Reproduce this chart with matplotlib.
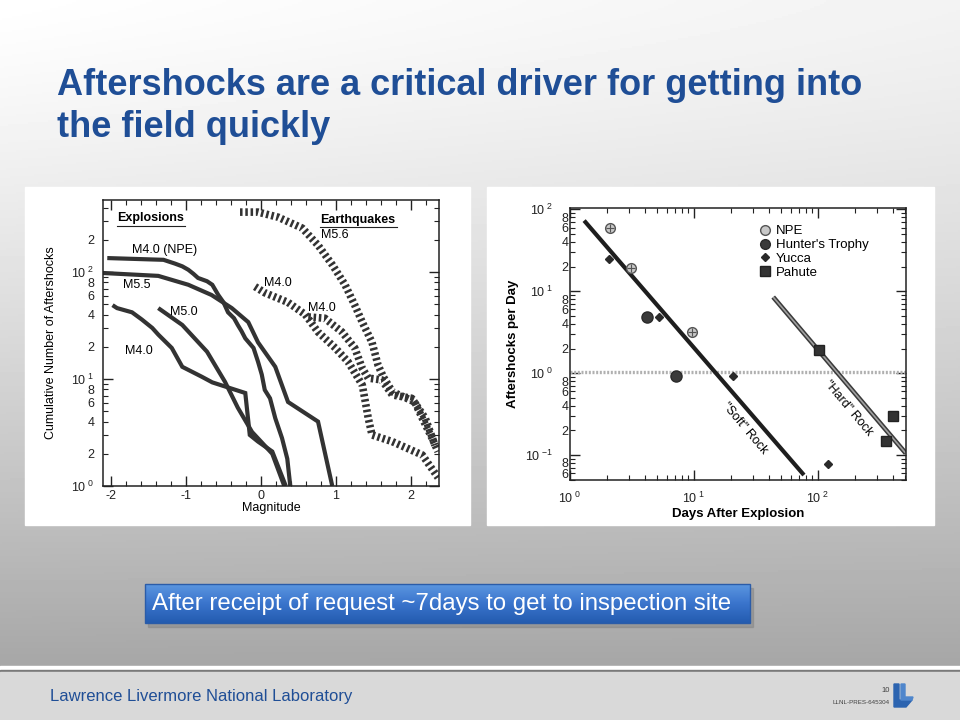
import numpy as np
import matplotlib
matplotlib.use("Agg")
import matplotlib.pyplot as plt
from matplotlib.patches import Rectangle, Polygon
from matplotlib.ticker import FixedLocator, FuncFormatter, NullFormatter
from matplotlib.lines import Line2D
from matplotlib.colors import LinearSegmentedColormap

plt.rcParams['font.family'] = ['Liberation Sans', 'DejaVu Sans']
plt.rcParams['mathtext.default'] = 'regular'
plt.rcParams['axes.unicode_minus'] = False

# ---------------- data: left chart (cumulative number vs magnitude) ----------------
npe_mag = [-2.05, -1.30, -1.15, -1.05, -0.97, -0.90, -0.84, -0.72, -0.65, -0.57, -0.50, -0.44, -0.36,
           -0.31, -0.26, -0.21, -0.10, -0.04, 0.01, 0.05, 0.12, 0.19, 0.28, 0.35, 0.39]
npe_cnt = [135, 130, 120, 113, 105, 96, 88, 82, 76, 61, 52, 42, 37, 32, 28, 24, 19.5, 14.5, 11, 7.9,
           6.6, 4.3, 2.8, 1.8, 1.0]
m55_mag = [-2.12, -1.37, -0.97, -0.66, -0.39, -0.17, -0.04, 0.19, 0.36, 0.76, 0.95]
m55_cnt = [98, 92, 76, 61, 46, 34, 22, 13, 6.1, 4.0, 1.0]
m50_mag = [-1.37, -1.05, -0.72, -0.48, -0.31, -0.12, 0.00, 0.15, 0.31]
m50_cnt = [46, 32, 18, 9.4, 5.4, 3.2, 2.6, 2.0, 1.0]
m40_mag = [-1.98, -1.92, -1.72, -1.59, -1.45, -1.37, -1.19, -1.05, -0.79, -0.65, -0.21, -0.15,
           -0.04, 0.15, 0.33]
m40_cnt = [49, 46, 42, 36, 30, 26, 19.5, 13, 10.5, 9.3, 7.4, 3.0, 2.6, 2.1, 1.0]
eq56_mag = [-0.28, -0.04, 0.23, 0.55, 0.76, 0.95, 1.12, 1.25, 1.35, 1.48, 1.56, 1.63, 1.75, 2.05,
            2.15, 2.28, 2.36]
eq56_cnt = [363, 363, 325, 257, 178, 117, 76, 49, 34, 22, 13.5, 10.5, 7.6, 6.1, 4.3, 2.8, 2.1]
eq40a_mag = [-0.08, 0.05, 0.36, 0.59, 0.76, 0.99, 1.16, 1.35, 1.43, 1.48, 1.75, 2.15, 2.36]
eq40a_cnt = [73, 64, 52, 40, 27.5, 19.5, 14.5, 8.8, 4.3, 3.0, 2.6, 1.95, 1.2]
eq40b_mag = [0.63, 0.85, 1.08, 1.25, 1.35, 1.43, 1.61, 1.75, 2.01, 2.19, 2.32]
eq40b_cnt = [38, 37, 27.5, 19.5, 12.6, 10.2, 9.8, 7.1, 6.6, 4.3, 2.4]

# ---------------- data: right chart (aftershocks per day vs days) ----------------
npe_days = [2.1, 3.1, 9.6]
npe_rate = [59, 19.5, 3.2]
hunter_days = [4.2, 7.2]
hunter_rate = [4.8, 0.93]
yucca_days = [2.07, 5.2, 20.6, 120]
yucca_rate = [24.5, 4.8, 0.93, 0.077]
pahute_days = [102, 400, 354]
pahute_rate = [1.9, 0.30, 0.15]
soft_days = [1.3, 77]
soft_rate = [73, 0.057]
hard_days = [43.5, 510]
hard_rate = [8.5, 0.105]
ref_rate = 1.04

title_lines = ["Aftershocks are a critical driver for getting into", "the field quickly"]
callout = "After receipt of request ~7days to get to inspection site"
footer = "Lawrence Livermore National Laboratory"

BLUE = '#1f4e96'
INK = '#333333'

fig = plt.figure(figsize=(9.6, 7.2), dpi=100)

# ---------------- slide background ----------------
bg = fig.add_axes([0, 0, 1, 1])
bg.set_xlim(0, 960)
bg.set_ylim(720, 0)
bg.axis('off')
yy, xx = np.mgrid[0:668:2, 0:960:2]
shade = 1.0 - 0.35 * (yy / 668.0) ** 1.25 - 0.05 * (xx / 960.0) * (1 - yy / 668.0)
bg.imshow(shade, cmap='gray', vmin=0, vmax=1, extent=[0, 960, 668, 0], aspect='auto', zorder=0)
bg.add_patch(Rectangle((0, 666), 960, 4, color='white', zorder=1))
bg.add_patch(Rectangle((0, 670), 960, 2, color='#7a7a7a', zorder=1))
bg.add_patch(Rectangle((0, 672), 960, 48, color='#d9d9d9', zorder=1))

# white panels behind the two charts
bg.add_patch(Rectangle((25, 187), 445, 338, color='white', zorder=2))
bg.add_patch(Rectangle((487, 187), 447, 338, color='white', zorder=2))

# title
bg.text(57, 95, title_lines[0], fontsize=26, fontweight='bold', color=BLUE, va='baseline', zorder=3)
bg.text(57, 137, title_lines[1], fontsize=26, fontweight='bold', color=BLUE, va='baseline', zorder=3)

# callout box
bg.add_patch(Rectangle((148, 588), 605, 39, color='#7f7f7f', alpha=0.45, zorder=2))
grad = np.linspace(0, 1, 50)[:, None] * np.ones((1, 10))
box_cmap = LinearSegmentedColormap.from_list('box', ['#5b96e0', '#3a74cc', '#245cb0'])
bg.imshow(grad, cmap=box_cmap, extent=[145, 750, 623, 584], aspect='auto', zorder=3)
bg.add_patch(Rectangle((145, 584), 605, 39, fill=False, edgecolor='#2b5ca8', lw=1, zorder=4))
bg.text(152, 604, callout, fontsize=17.3, color='white', va='center', ha='left', zorder=5)

# footer
bg.text(50, 697, footer, fontsize=12, color=BLUE, va='center', ha='left',
        family=['Liberation Sans Narrow', 'Liberation Sans'], zorder=3)
bg.text(890, 690, "10", fontsize=5.5, color='#404040', ha='right', va='center', zorder=3)
bg.text(890, 702, "LLNL-PRES-645304", fontsize=4.5, color='#404040', ha='right', va='center', zorder=3)
bg.add_patch(Polygon([(894, 684), (899, 684), (899, 700), (912, 700), (906, 707), (894, 707)],
                     closed=True, color='#2c64b0', zorder=3))
bg.add_patch(Polygon([(901, 684), (905, 684), (905, 697), (913, 697), (912, 700), (901, 700)],
                     closed=True, color='#4f86cc', zorder=3))


def decade_label(v, pos):
    return r'10$^{\ {%d}}$' % int(round(np.log10(v)))


def minor_label_factory(limit):
    def fmt(v, pos):
        mant = v / 10 ** np.floor(np.log10(v) + 1e-9)
        m = int(round(mant))
        if m in (2, 4, 6, 8) and v < limit:
            return '%d' % m
        return ''
    return fmt


minor_vals = [m * 10.0 ** d for d in range(-3, 4) for m in range(2, 10)]

# ---------------- left chart ----------------
ax1 = fig.add_axes([103 / 960, 1 - 486 / 720, 336 / 960, 286 / 720])
ax1.set_yscale('log')
ax1.set_xlim(-2.107, 2.373)
ax1.set_ylim(1, 471)

solid = dict(color=INK, lw=3.0, solid_joinstyle='miter', solid_capstyle='butt')
ax1.plot(npe_mag, npe_cnt, **solid)
ax1.plot(m55_mag, m55_cnt, **solid)
ax1.plot(m50_mag, m50_cnt, **solid)
ax1.plot(m40_mag, m40_cnt, **solid)
hatch = dict(color=INK, lw=5.5, linestyle=(0, (0.33, 0.36)), dash_capstyle='butt')
ax1.plot(eq56_mag, eq56_cnt, **hatch)
ax1.plot(eq40a_mag, eq40a_cnt, **hatch)
ax1.plot(eq40b_mag, eq40b_cnt, **hatch)

ax1.yaxis.set_major_locator(FixedLocator([1, 10, 100]))
ax1.yaxis.set_major_formatter(FuncFormatter(decade_label))
ax1.yaxis.set_minor_locator(FixedLocator(minor_vals))
ax1.yaxis.set_minor_formatter(FuncFormatter(minor_label_factory(300)))
ax1.xaxis.set_major_locator(FixedLocator([-2, -1, 0, 1, 2]))
ax1.xaxis.set_minor_locator(FixedLocator(np.arange(-2.0, 2.4, 0.2)))
ax1.tick_params(which='both', direction='in', top=True, right=True, labelsize=9, colors='#222222')
ax1.tick_params(which='major', length=7, width=1, pad=6)
ax1.tick_params(which='minor', length=3.5, width=0.8, pad=6)
ax1.tick_params(axis='x', which='major', pad=3)
for s in ax1.spines.values():
    s.set_linewidth(1.1)
    s.set_color('#222222')
ax1.set_xlabel('Magnitude', fontsize=9, labelpad=0)
ax1.set_ylabel('Cumulative Number of Aftershocks', fontsize=9, labelpad=10)

ax1.text(-1.92, 318, 'Explosions', fontsize=9, fontweight='bold', va='center')
ax1.plot([-1.92, -1.01], [272, 272], color='#222222', lw=0.8)
ax1.text(0.79, 308, 'Earthquakes', fontsize=9, fontweight='bold', va='center')
ax1.plot([0.79, 1.81], [262, 262], color='#222222', lw=0.8)
ax1.text(0.80, 222, 'M5.6', fontsize=9, va='center')
ax1.text(-1.72, 161, 'M4.0 (NPE)', fontsize=9, va='center')
ax1.text(-1.84, 75, 'M5.5', fontsize=9, va='center')
ax1.text(-1.21, 42, 'M5.0', fontsize=9, va='center')
ax1.text(-1.81, 18.3, 'M4.0', fontsize=9, va='center')
ax1.text(0.04, 79, 'M4.0', fontsize=9, va='center')
ax1.text(0.63, 46, 'M4.0', fontsize=9, va='center')

# ---------------- right chart ----------------
ax2 = fig.add_axes([570 / 960, 1 - 480 / 720, 336 / 960, 272 / 720])
ax2.set_xscale('log')
ax2.set_yscale('log')
ax2.set_xlim(1, 512)
ax2.set_ylim(0.0496, 104)

ax2.axhline(ref_rate, color='#b0b0b0', lw=2.4, linestyle=(0, (0.6, 0.5)))
ax2.plot(soft_days, soft_rate, color='#1e1e1e', lw=3.0, solid_capstyle='butt')
ax2.plot(hard_days, hard_rate, color='#3a3a3a', lw=3.4, solid_capstyle='butt')
ax2.plot(hard_days, hard_rate, color='#a0a0a0', lw=1.2, solid_capstyle='butt')

ax2.plot(npe_days, npe_rate, linestyle='none', marker='o', ms=7, mfc='#c8c8c8', mec='#555555',
         mew=1, label='NPE')
ax2.plot(npe_days, npe_rate, linestyle='none', marker='+', ms=6, mec='#555555', mew=0.8)
ax2.plot(hunter_days, hunter_rate, linestyle='none', marker='o', ms=8, mfc='#3a3a3a', mec='#2a2a2a',
         label="Hunter's Trophy")
ax2.plot(yucca_days, yucca_rate, linestyle='none', marker='D', ms=4.5, mfc='#2a2a2a', mec='#2a2a2a',
         label='Yucca')
ax2.plot(pahute_days, pahute_rate, linestyle='none', marker='s', ms=7.5, mfc='#333333', mec='#222222',
         label='Pahute')

handles = [Line2D([], [], linestyle='none', marker='o', ms=7, mfc='#c8c8c8', mec='#555555'),
           Line2D([], [], linestyle='none', marker='o', ms=7, mfc='#3a3a3a', mec='#2a2a2a'),
           Line2D([], [], linestyle='none', marker='D', ms=4.5, mfc='#2a2a2a', mec='#2a2a2a'),
           Line2D([], [], linestyle='none', marker='s', ms=6.5, mfc='#333333', mec='#222222')]
ax2.legend(handles, ['NPE', "Hunter's Trophy", 'Yucca', 'Pahute'], loc='upper left',
           bbox_to_anchor=(0.565, 0.937), frameon=False, fontsize=9.5, handlelength=0.8,
           handletextpad=0.4, labelspacing=0.12, borderpad=0, borderaxespad=0)

ax2.text(25.8, 0.21, '"Soft" Rock', fontsize=9, rotation=-50, ha='center', va='center')
ax2.text(176, 0.37, '"Hard" Rock', fontsize=9, rotation=-50, ha='center', va='center')

ax2.xaxis.set_major_locator(FixedLocator([1, 10, 100]))
ax2.xaxis.set_major_formatter(FuncFormatter(decade_label))
ax2.xaxis.set_minor_locator(FixedLocator(minor_vals))
ax2.xaxis.set_minor_formatter(NullFormatter())
ax2.yaxis.set_major_locator(FixedLocator([0.1, 1, 10, 100]))
ax2.yaxis.set_major_formatter(FuncFormatter(decade_label))
ax2.yaxis.set_minor_locator(FixedLocator(minor_vals))
ax2.yaxis.set_minor_formatter(FuncFormatter(minor_label_factory(1000)))
ax2.tick_params(which='both', direction='in', top=True, right=True, labelsize=9, colors='#222222')
ax2.tick_params(which='major', length=7, width=1, pad=8)
ax2.tick_params(axis='y', which='major', pad=12)
ax2.tick_params(which='minor', length=3.5, width=0.8)
ax2.tick_params(axis='y', which='minor', pad=1)
for s in ax2.spines.values():
    s.set_linewidth(1.1)
    s.set_color('#222222')
ax2.set_xlabel('Days After Explosion', fontsize=9.5, fontweight='bold', labelpad=1)
ax2.set_ylabel('Aftershocks per Day', fontsize=9.5, fontweight='bold', labelpad=4)

fig.savefig('out.png', dpi=100)
